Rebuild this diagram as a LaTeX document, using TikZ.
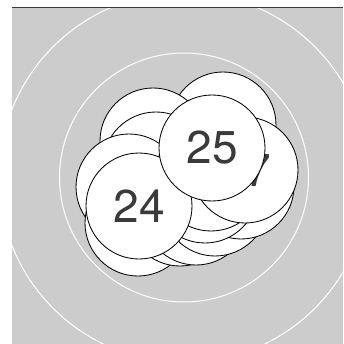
\documentclass[tikz,border=0pt]{standalone}
\usepackage{fontspec}
\setsansfont{TeX Gyre Heros}
\usepackage{tikz}
\usetikzlibrary{positioning}
\definecolor{panelgray}{HTML}{CCCCCC}
\definecolor{inkgray}{HTML}{3A3A3A}
\tikzset{
  x=1pt,y=-1pt,
  panel/.style={fill=panelgray,draw=none},
  topline/.style={draw=inkgray,line width=0.9pt},
  ring/.style={draw=white,line width=1pt},
  ball/.style={circle,draw=black,fill=white,line width=0.85pt,
    minimum size=106pt,inner sep=0pt,text=inkgray,
    font=\sffamily\fontsize{46}{46}\selectfont},
}

\begin{document}
\begin{tikzpicture}
  \useasboundingbox (0,0) rectangle (343,344);
  \fill[panel] (12,7) rectangle (343,344);
  \begin{scope}
    \clip (12,7) rectangle (343,344);
    \coordinate (mid) at (184,177.5);
    \draw[ring] (mid) circle[radius=124.5];
    \draw[ring] (mid) circle[radius=185];
  \end{scope}
  \draw[topline] (12,7) -- (343,7);
  % the crowd behind
  \node[ball] (b1) at (223,125) {};
  \node[ball] (b2) at (153,141) {};
  \node[ball] (b3) at (156,165) {};
  \node[ball] (b4) at (129,187) {};
  \node[ball] (b5) at (138,223) {};
  \node[ball] (b6) at (180,213) {};
  \node[ball] (b7) at (196,212) {};
  \node[ball] (b8) at (215,203) {};
  \node[ball] (b9) at (241,186) {};
  \node[ball] (b10) at (205,190) {};
  \node[ball] (b11) at (208,176) {};
  \node[ball] (b12) at (211,178) {};
  \node[ball] (n27) at (245,170) {27};
  % front
  \node[ball] (n24) at (139,206) {24};
  \node[ball] (n25) at (212,148) {25};
\end{tikzpicture}
\end{document}
